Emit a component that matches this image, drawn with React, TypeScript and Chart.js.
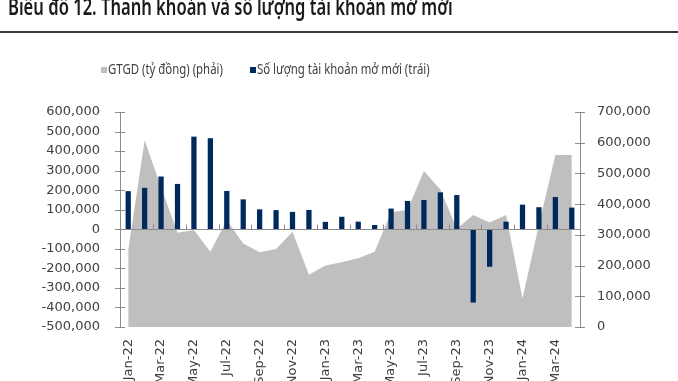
import React, { useEffect, useRef } from "react";
import { Chart, registerables } from "chart.js";

Chart.register(...registerables);

const months: string[] = [
  "Jan-22", "Feb-22", "Mar-22", "Apr-22", "May-22", "Jun-22", "Jul-22", "Aug-22", "Sep-22", "Oct-22", "Nov-22", "Dec-22",
  "Jan-23", "Feb-23", "Mar-23", "Apr-23", "May-23", "Jun-23", "Jul-23", "Aug-23", "Sep-23", "Oct-23", "Nov-23", "Dec-23",
  "Jan-24", "Feb-24", "Mar-24", "Apr-24",
];

const newAccounts: number[] = [
  195000, 212000, 270000, 232000, 474000, 466000, 196000, 153000, 102000, 98000, 89000, 99000,
  38000, 64000, 39000, 22000, 106000, 145000, 150000, 189000, 175000, -375000, -192000, 39000,
  126000, 113000, 165000, 111000,
];

const tradingValue: number[] = [
  250000, 608000, 455000, 307000, 316000, 245000, 348000, 272000, 243000, 254000, 310000, 170000,
  200000, 211000, 224000, 245000, 374000, 381000, 508000, 448000, 320000, 365000, 340000, 365000,
  94000, 333000, 560000, 560000,
];

const titleText = "Biểu đồ 12. Thanh khoản và số lượng tài khoản mở mới";
const areaLabel = "GTGD (tỷ đồng) (phải)";
const barLabel = "Số lượng tài khoản mở mới (trái)";

const AREA_COLOR = "#BFBFBF";
const BAR_COLOR = "#002A5C";
const AXIS_COLOR = "#8C8C8C";
const TEXT_COLOR = "#404040";
const TICK_FONT = "'DejaVu Sans', sans-serif";

const fmt = (v: number) => {
  const s = Math.abs(v).toLocaleString("en-US");
  return (v < 0 ? "-" : "") + s;
};

const axisMarks = {
  id: "axisMarks",
  afterDatasetsDraw(chart: any) {
    const ctx = chart.ctx;
    const ca = chart.chartArea;
    const y = chart.scales.y;
    const y1 = chart.scales.y1;
    ctx.save();
    ctx.strokeStyle = AXIS_COLOR;
    ctx.lineWidth = 1;
    const y0 = Math.round(y.getPixelForValue(0)) + 0.5;
    ctx.beginPath();
    ctx.moveTo(ca.left, y0);
    ctx.lineTo(ca.right, y0);
    ctx.stroke();
    const n = months.length;
    const w = (ca.right - ca.left) / n;
    for (let k = 2; k < n; k += 2) {
      const px = Math.round(ca.left + k * w) + 0.5;
      ctx.beginPath();
      ctx.moveTo(px, y0);
      ctx.lineTo(px, y0 - 5);
      ctx.stroke();
    }
    y.ticks.forEach((t: any) => {
      const py = Math.round(y.getPixelForValue(t.value)) + 0.5;
      ctx.beginPath();
      ctx.moveTo(ca.left - 5, py);
      ctx.lineTo(ca.left + 5, py);
      ctx.stroke();
    });
    y1.ticks.forEach((t: any) => {
      const py = Math.round(y1.getPixelForValue(t.value)) + 0.5;
      ctx.beginPath();
      ctx.moveTo(ca.right - 5, py);
      ctx.lineTo(ca.right + 5, py);
      ctx.stroke();
    });
    ctx.restore();
  },
};

export default function App() {
  const canvasRef = useRef<HTMLCanvasElement | null>(null);

  useEffect(() => {
    if (!canvasRef.current) return;
    const chart = new Chart(canvasRef.current, {
      type: "bar",
      data: {
        labels: months,
        datasets: [
          {
            type: "bar",
            label: barLabel,
            data: newAccounts,
            backgroundColor: BAR_COLOR,
            borderWidth: 0,
            yAxisID: "y",
            categoryPercentage: 1,
            barPercentage: 0.32,
            order: 1,
          } as any,
          {
            type: "line",
            label: areaLabel,
            data: tradingValue,
            backgroundColor: AREA_COLOR,
            borderColor: AREA_COLOR,
            borderWidth: 0,
            pointRadius: 0,
            tension: 0,
            fill: "origin",
            yAxisID: "y1",
            order: 2,
          } as any,
        ],
      },
      options: {
        responsive: false,
        animation: false,
        events: [],
        layout: { padding: { top: 112, left: 0, right: 0, bottom: 0 } },
        plugins: {
          legend: { display: false },
          title: { display: false },
          tooltip: { enabled: false },
        },
        scales: {
          x: {
            offset: true,
            grid: { display: false, drawTicks: false },
            border: { display: false },
            ticks: {
              autoSkip: false,
              maxRotation: 90,
              minRotation: 90,
              padding: 12,
              color: TEXT_COLOR,
              font: { family: TICK_FONT, size: 13 },
              callback: (_v: any, i: number) => (i % 2 === 0 ? months[i] : ""),
            },
            afterFit: (s: any) => {
              s.height = 54;
            },
          },
          y: {
            position: "left",
            min: -500000,
            max: 600000,
            grid: { display: false, drawTicks: false },
            border: { display: true, color: AXIS_COLOR, width: 1 },
            ticks: {
              stepSize: 100000,
              padding: 20,
              color: TEXT_COLOR,
              font: { family: TICK_FONT, size: 13 },
              callback: (v: any) => fmt(Number(v)),
            },
            afterFit: (s: any) => {
              s.width = 120;
            },
          },
          y1: {
            position: "right",
            min: 0,
            max: 700000,
            grid: { display: false, drawTicks: false },
            border: { display: true, color: AXIS_COLOR, width: 1 },
            ticks: {
              stepSize: 100000,
              padding: 17,
              color: TEXT_COLOR,
              font: { family: TICK_FONT, size: 13 },
              callback: (v: any) => fmt(Number(v)),
            },
            afterFit: (s: any) => {
              s.width = 98;
            },
          },
        },
      },
      plugins: [axisMarks],
    });
    return () => chart.destroy();
  }, []);

  const textFont = "'Noto Sans', sans-serif";
  const narrow = (
    left: number,
    top: number,
    size: number,
    scale: number,
    color: string,
    text: string,
    weight: number = 400
  ) => (
    <div
      style={{
        position: "absolute",
        left,
        top,
        fontFamily: textFont,
        fontSize: size,
        fontWeight: weight,
        lineHeight: `${size + 4}px`,
        color,
        whiteSpace: "nowrap",
        transform: `scaleX(${scale})`,
        transformOrigin: "0 0",
      }}
    >
      {text}
    </div>
  );

  return (
    <div
      style={{
        position: "absolute",
        left: 0,
        top: 0,
        width: 678,
        height: 381,
        overflow: "hidden",
        background: "#fff",
      }}
    >
      <canvas ref={canvasRef} width={678} height={381} style={{ position: "absolute", left: 0, top: 0 }} />
      {narrow(8, -7, 23, 0.72, "#1a1a1a", titleText, 600)}
      <div style={{ position: "absolute", left: 0, top: 31, width: 678, height: 2, background: "#3a3a3a" }} />
      <div style={{ position: "absolute", left: 101, top: 67, width: 6, height: 6, background: AREA_COLOR }} />
      {narrow(108, 59, 15, 0.76, TEXT_COLOR, areaLabel)}
      <div style={{ position: "absolute", left: 250, top: 67, width: 6, height: 6, background: BAR_COLOR }} />
      {narrow(257, 59, 15, 0.76, TEXT_COLOR, barLabel)}
    </div>
  );
}
